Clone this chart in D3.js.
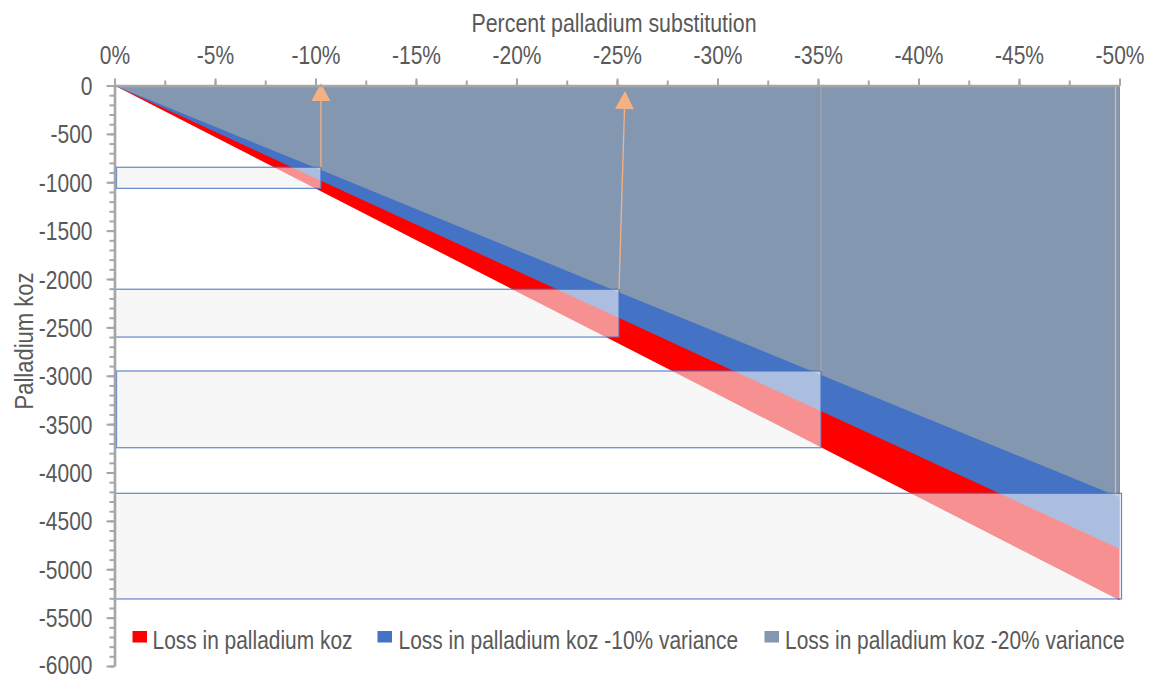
<!DOCTYPE html>
<html>
<head>
<meta charset="utf-8">
<script src="https://cdn.jsdelivr.net/npm/d3@7"></script>
<style>
  html, body { margin: 0; padding: 0; background: #fff; }
  svg { display: block; }
  text { font-family: "Liberation Sans", Arial, sans-serif; fill: #595959; }
</style>
</head>
<body>
<svg id="chart" width="1152" height="679"></svg>
<script>
// ---- data ----
const substitution = [0, -5, -10, -15, -20, -25, -30, -35, -40, -45, -50];
const lossKoz      = [0, -532, -1064, -1596, -2128, -2660, -3192, -3724, -4256, -4788, -5320];
const loss10       = [0, -479, -958, -1436, -1915, -2394, -2873, -3352, -3830, -4309, -4788];
const loss20       = [0, -426, -851, -1277, -1702, -2128, -2554, -2979, -3405, -3830, -4256];
const seriesNames  = ["Loss in palladium koz", "Loss in palladium koz -10% variance", "Loss in palladium koz -20% variance"];
const xTickValues  = [0, -5, -10, -15, -20, -25, -30, -35, -40, -45, -50];
const xTickLabels  = ["0%", "-5%", "-10%", "-15%", "-20%", "-25%", "-30%", "-35%", "-40%", "-45%", "-50%"];
const yTickValues  = [0, -500, -1000, -1500, -2000, -2500, -3000, -3500, -4000, -4500, -5000, -5500, -6000];
const yTickLabels  = ["0", "-500", "-1000", "-1500", "-2000", "-2500", "-3000", "-3500", "-4000", "-4500", "-5000", "-5500", "-6000"];
// callout boxes: left pct, right pct, top koz, bottom koz
const boxLeft   = [-0.1, 0, -0.1, 0];
const boxRight  = [-10.27, -25.1, -35.15, -50.1];
const boxTop    = [-845, -2106, -2951, -4215];
const boxBottom = [-1063, -2600, -3744, -5307];
// arrows: from (pct, koz) to tip (pct, koz)
const arrowFromX = [-10.27, -25.1, -35.15, -49.8];
const arrowFromY = [-845, -2106, -2951, -4215];
const arrowToX   = [-10.27, -25.4, -35.15, -49.8];
const arrowToY   = [26, -57, 0, 0];
const arrowHead  = [true, true, false, false];

// ---- layout ----
const svg = d3.select("#chart");
const x = d3.scaleLinear().domain([0, -50]).range([114.5, 1119.5]);
const y = d3.scaleLinear().domain([0, -6000]).range([85.5, 666]);
const colors = ["#ff0000", "#4472c4", "#8497b0"];
const K = 0.84; // narrow text factor

// ---- areas ----
const seriesVals = [lossKoz, loss10, loss20];
seriesVals.forEach((vals, i) => {
  const pts = substitution.map((p, j) => [p, vals[j]]);
  const area = d3.area().x(d => x(d[0])).y0(y(0)).y1(d => y(d[1]));
  svg.append("path").attr("d", area(pts)).attr("fill", colors[i]);
});

// ---- callout boxes ----
boxLeft.forEach((l, i) => {
  svg.append("rect")
    .attr("x", x(l)).attr("y", y(boxTop[i]))
    .attr("width", x(boxRight[i]) - x(l))
    .attr("height", y(boxBottom[i]) - y(boxTop[i]))
    .attr("fill", "#f2f2f2").attr("fill-opacity", 0.6)
    .attr("stroke", "#4472c4").attr("stroke-width", 1.2).attr("stroke-opacity", 0.85);
});

// ---- arrows ----
arrowFromX.forEach((fx, i) => {
  const x1 = x(fx), y1 = y(arrowFromY[i]), x2 = x(arrowToX[i]), y2 = y(arrowToY[i]);
  const col = i === 2 ? "#a8a2a6" : "#f4b183";
  if (arrowHead[i]) {
    const hl = 18, hw = 9.5;
    const ang = Math.atan2(y2 - y1, x2 - x1);
    const bx = x2 - hl * Math.cos(ang), by = y2 - hl * Math.sin(ang);
    svg.append("line").attr("x1", x1).attr("y1", y1).attr("x2", bx).attr("y2", by)
      .attr("stroke", col).attr("stroke-width", 1.3);
    const px = -Math.sin(ang), py = Math.cos(ang);
    svg.append("path")
      .attr("d", `M${x2},${y2}L${bx + hw * px},${by + hw * py}L${bx - hw * px},${by - hw * py}Z`)
      .attr("fill", col);
  } else {
    svg.append("line").attr("x1", x1).attr("y1", y1).attr("x2", x2).attr("y2", y2)
      .attr("stroke", col).attr("stroke-width", 1.3);
  }
});

// ---- axes ----
const axisCol = "#a6a6a6";
const xMinor = d3.range(0, 21).map(i => -2.5 * i);
const xAxisMinor = d3.axisTop(x).tickValues(xMinor).tickSize(5).tickFormat("");
svg.append("g").attr("transform", `translate(0,${y(0)})`).call(xAxisMinor)
  .call(g => g.select(".domain").remove())
  .call(g => g.selectAll("line").attr("stroke", axisCol).attr("stroke-width", 2));
const xAxis = d3.axisTop(x).tickValues(xTickValues).tickSize(7).tickSizeOuter(0)
  .tickFormat((d, i) => xTickLabels[i]);
const gx = svg.append("g").attr("transform", `translate(0,${y(0)})`).call(xAxis);
gx.select(".domain").attr("stroke", axisCol).attr("stroke-width", 2.6);
gx.selectAll(".tick line").attr("stroke", axisCol).attr("stroke-width", 2);
gx.selectAll(".tick text").attr("font-size", 25).attr("fill", "#595959")
  .attr("y", -22).attr("dy", 0).attr("transform", `scale(${K},1)`);

const yMinor = d3.range(0, 61).map(i => -100 * i);
const yAxisMinor = d3.axisLeft(y).tickValues(yMinor).tickSize(5).tickFormat("");
svg.append("g").attr("transform", `translate(${x(0)},0)`).call(yAxisMinor)
  .call(g => g.select(".domain").remove())
  .call(g => g.selectAll("line").attr("stroke", axisCol).attr("stroke-width", 2));
const yAxis = d3.axisLeft(y).tickValues(yTickValues).tickSize(8).tickSizeOuter(0)
  .tickFormat((d, i) => yTickLabels[i]);
const gy = svg.append("g").attr("transform", `translate(${x(0)},0)`).call(yAxis);
gy.select(".domain").attr("stroke", axisCol).attr("stroke-width", 2.6);
gy.selectAll(".tick line").attr("stroke", axisCol).attr("stroke-width", 2);
gy.selectAll(".tick text").attr("font-size", 25).attr("fill", "#595959")
  .attr("x", -22 / K).attr("dy", d => d === -6000 ? "0.28em" : "0.36em")
  .attr("transform", `scale(${K},1)`);
svg.selectAll("g").attr("font-family", null);

// ---- titles ----
svg.append("text").attr("transform", "translate(614,32) scale(0.855,1)")
  .attr("text-anchor", "middle").attr("font-size", 25).text("Percent palladium substitution");
svg.append("text").attr("transform", "translate(33,341) rotate(-90) scale(0.88,1)")
  .attr("text-anchor", "middle").attr("font-size", 25).text("Palladium koz");

// ---- legend ----
const legX = [132.5, 377.5, 764.5];
const legTextX = [152.5, 398.5, 785];
seriesNames.forEach((n, i) => {
  svg.append("rect").attr("x", legX[i]).attr("y", 631).attr("width", 14.5).attr("height", 11.5)
    .attr("fill", colors[i]);
  svg.append("text").attr("transform", `translate(${legTextX[i]},649) scale(0.837,1)`)
    .attr("font-size", 25).text(n);
});
</script>
</body>
</html>
